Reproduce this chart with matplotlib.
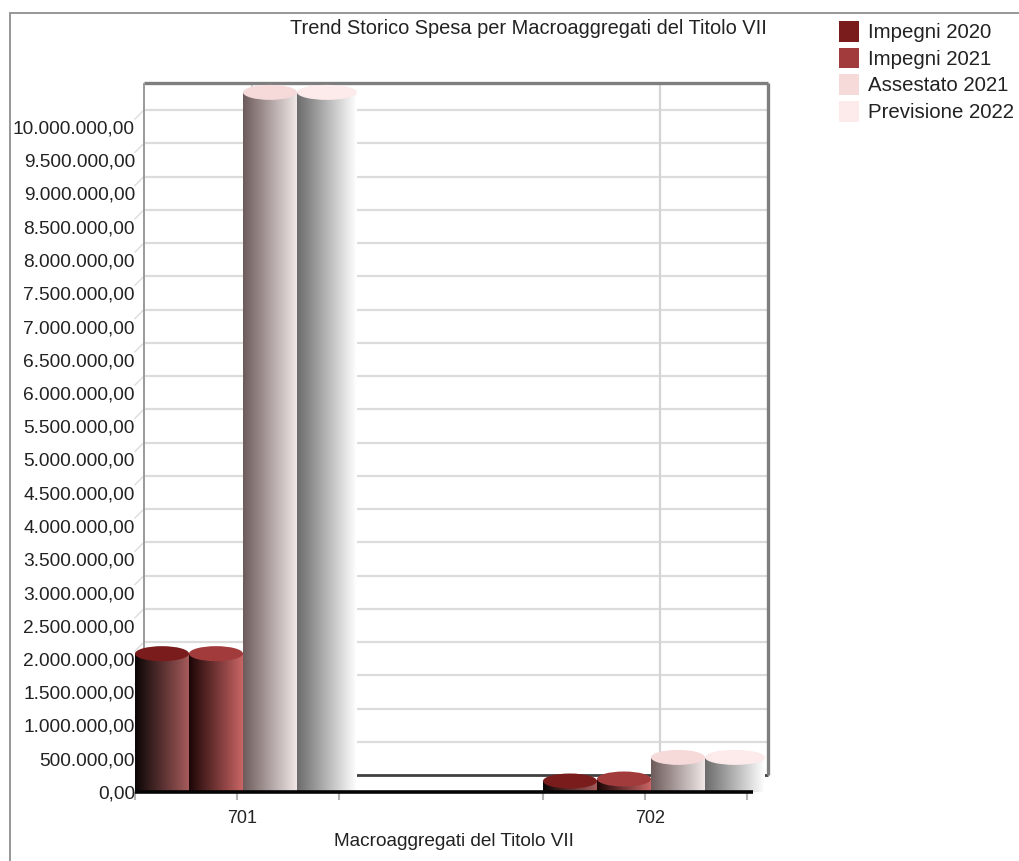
import numpy as np
import matplotlib
matplotlib.use("Agg")
import matplotlib.pyplot as plt
from matplotlib.colors import to_rgb
from matplotlib.patches import Ellipse, Patch, Rectangle
from matplotlib.transforms import Affine2D

plt.rcParams['font.family'] = ['Liberation Sans', 'DejaVu Sans']

categories = ["701", "702"]
series = ["Impegni 2020", "Impegni 2021", "Assestato 2021", "Previsione 2022"]
impegni_2020 = [1960000, 45000]
impegni_2021 = [1960000, 75000]
assestato_2021 = [10400000, 400000]
previsione_2022 = [10400000, 400000]
y_ticks = list(range(0, 10500000, 500000))

top_colors = ["#7a1c1c", "#a23c3c", "#f6d9d9", "#fdeaea"]
body_left = ["#0c0606", "#1e0606", "#6e5c5c", "#6c6c6c"]
body_right = ["#a45a5a", "#c86464", "#efe6e6", "#ffffff"]

W, H = 1020, 861
PX_X = 408.0      # pixels per category
PX_Y = 66.5 / 1e6  # pixels per unit of value


def it_number(v):
    s = "{:,.2f}".format(v)
    return s.replace(",", "#").replace(".", ",").replace("#", ".")


def gradient(c1, c2, n=64):
    a = np.array(to_rgb(c1))
    b = np.array(to_rgb(c2))
    return np.linspace(a, b, n)[np.newaxis, :, :]


fig = plt.figure(figsize=(W / 100, H / 100), dpi=100)
left, right, bottom, top = 135, 768, 792, 83
ax = fig.add_axes([left / W, 1 - bottom / H, (right - left) / W, (bottom - top) / H])
ax.patch.set_alpha(0)
for s in ax.spines.values():
    s.set_visible(False)
xlim = ((left - 237) / PX_X, (right - 237) / PX_X)
ylim = (0, (bottom - top) / PX_Y)

# outer frame of the control, open at the bottom and right
fig.add_artist(Rectangle((10 / W, -0.2), 1.2, 1.2 - 13 / H, transform=fig.transFigure,
                         fill=False, edgecolor="#8f8f8f", linewidth=1.3))

# back wall, shifted from the front plane
back = ax.transData + Affine2D().translate(9, 17)
back_x0 = (144 - 9 - 237) / PX_X
back_x1 = (768 - 9 - 237) / PX_X
ax.hlines(y_ticks[1:], back_x0, back_x1, transform=back, color="#dcdcdc", linewidth=1.6, zorder=1, clip_on=False)
ax.vlines([0.0147, 1.0147], 0, (775 - 83) / PX_Y, transform=back, color="#d4d4d4", linewidth=1.6, zorder=1, clip_on=False)
ax.hlines(0, back_x0, back_x1, transform=back, color="#404040", linewidth=2.0, zorder=1, clip_on=False)
ax.hlines((775 - 83) / PX_Y, back_x0, back_x1, transform=back, color="#7e7e7e", linewidth=2.4, zorder=2, clip_on=False)
ax.vlines(back_x0, 0, (775 - 83) / PX_Y, transform=back, color="#9a9a9a", linewidth=1.4, zorder=2, clip_on=False)
ax.vlines(back_x1, 0, (775 - 83) / PX_Y, transform=back, color="#7e7e7e", linewidth=2.4, zorder=2, clip_on=False)

# little diagonals joining the labels to the back wall
for t in y_ticks[1:]:
    ax.plot([back_x0, back_x0 - 9 / PX_X], [t, t - 9 / PX_Y], transform=back,
            color="#dcdcdc", linewidth=1.0, zorder=1, clip_on=False)

# cylinders
offsets = [-102, -48, 6, 60]
widths = [54, 54, 54, 60]
values = [impegni_2020, impegni_2021, assestato_2021, previsione_2022]
positions = np.arange(len(categories))
for j, vals in enumerate(values):
    x0 = positions + offsets[j] / PX_X
    w = widths[j] / PX_X
    tops = [v + 8 / PX_Y for v in vals]
    bars = ax.bar(x0, tops, width=w, align='edge', color="none", zorder=3 + j * 0.1)
    for b, x, t in zip(bars, x0, tops):
        im = ax.imshow(gradient(body_left[j], body_right[j]), extent=[x, x + w, 0, t],
                       aspect='auto', interpolation='bilinear', zorder=3 + j * 0.1)
        im.set_clip_on(False)
        ax.add_patch(Ellipse((x + w / 2, t), w, 15 / PX_Y, facecolor=top_colors[j], edgecolor="none",
                             zorder=3.05 + j * 0.1, clip_on=False))

# front base line
ax.hlines(0, (135 - 237) / PX_X, (753 - 237) / PX_X, color="#050505", linewidth=2.6, zorder=5, clip_on=False)

ax.set_xlim(xlim)
ax.set_ylim(ylim)

ax.set_yticks(y_ticks)
ax.set_yticklabels([it_number(t) for t in y_ticks], fontsize=13.8, color="#222222")
ax.tick_params(axis='y', length=0, pad=0)
ax.set_xticks(positions)
ax.set_xticks([-0.25, 0.25, 0.75, 1.25], minor=True)
ax.set_xticklabels(categories, fontsize=13, color="#222222")
ax.tick_params(axis='x', which='both', length=5.5, width=1.5, color="#b4b4b4", pad=7.5)
for label in ax.get_xticklabels():
    label.set_transform(label.get_transform() + Affine2D().translate(5, 0))

fig.text(528.5 / W, 1 - 29 / H, "Trend Storico Spesa per Macroaggregati del Titolo VII",
         ha='center', va='center', fontsize=14.4, color="#222222")
fig.text(453.5 / W, 1 - 841 / H, "Macroaggregati del Titolo VII",
         ha='center', va='center', fontsize=13.7, color="#222222")

handles = [Patch(facecolor=c, edgecolor="none") for c in top_colors]
fig.legend(handles, series, loc='upper left', bbox_to_anchor=(839 / W, 1 - 21 / H),
           frameon=False, fontsize=14.7, handlelength=0.98, handleheight=1.19,
           handletextpad=0.44, labelspacing=0.26, borderpad=0, borderaxespad=0,
           labelcolor="#222222")

fig.savefig("out.png", dpi=100)
